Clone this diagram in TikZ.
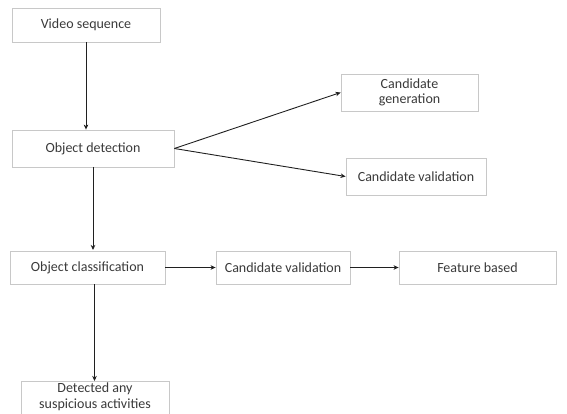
\documentclass[tikz,border=0pt]{standalone}
\usepackage{fontspec}
\setmainfont{Carlito}
\usetikzlibrary{arrows.meta}
\definecolor{boxline}{HTML}{C8C8C8}
\definecolor{txt}{HTML}{3A3A3A}
\definecolor{arr}{HTML}{202020}
\tikzset{
  box/.style={draw=boxline, line width=0.8pt, fill=white, text=txt, font=\fontsize{14}{15.5}\selectfont, align=center, inner sep=0pt},
  conn/.style={draw=arr, line width=0.9pt, -{Stealth[length=5pt,width=4.5pt,inset=1.5pt]}}
}
\begin{document}
\begin{tikzpicture}[x=1pt,y=-1pt]
\useasboundingbox (0,0) rectangle (567,414);
\clip (0,0) rectangle (567,414);
\node[box, minimum width=148pt, minimum height=34pt] (vs) at (86,25) {Video sequence};
\node[box, minimum width=162pt, minimum height=37pt] (od) at (93,148.5) {Object detection};
\node[box, minimum width=137pt, minimum height=37pt] (cg) at (409.5,92.5) {Candidate\\generation};
\node[box, minimum width=140pt, minimum height=37pt] (cv1) at (416,176.5) {Candidate validation};
\node[box, minimum width=155pt, minimum height=33pt] (oc) at (87.5,267.5) {Object classification};
\node[box, minimum width=134pt, minimum height=33pt] (cv2) at (283,267.5) {Candidate validation};
\node[box, minimum width=157pt, minimum height=33pt] (fb) at (477.5,267.5) {Feature based};
\node[box, minimum width=148pt, minimum height=44pt, anchor=north] (da) at (95,381) {};
\node[text=txt, font=\fontsize{14}{15.5}\selectfont, align=center, anchor=north, inner sep=0pt] (dat) at (95,383) {Detected any\\suspicious activities};
\draw[conn] (vs.south) -- (vs.south |- od.north);
\draw[conn] (od.east) -- (cg.west);
\draw[conn] (od.east) -- (cv1.west);
\draw[conn] (93,167) -- (93,250);
\draw[conn] (94.5,284) -- (94.5,381);
\draw[conn] (oc.east) -- (cv2.west);
\draw[conn] (cv2.east) -- (fb.west);
\end{tikzpicture}
\end{document}
